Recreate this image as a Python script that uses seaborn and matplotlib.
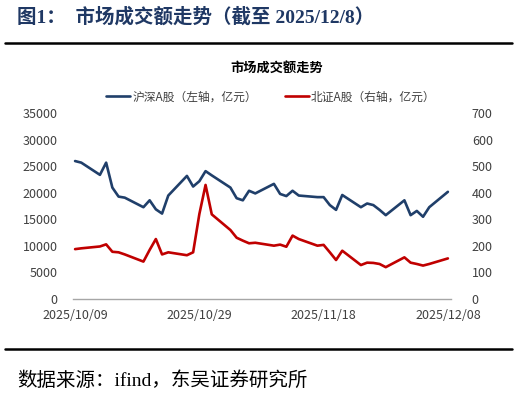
import matplotlib
matplotlib.use("Agg")
import matplotlib.pyplot as plt
import matplotlib.dates as mdates
import seaborn as sns
import pandas as pd
import numpy as np

dates = ["2025-10-09","2025-10-10","2025-10-13","2025-10-14","2025-10-15","2025-10-16","2025-10-17",
         "2025-10-20","2025-10-21","2025-10-22","2025-10-23","2025-10-24","2025-10-27","2025-10-28",
         "2025-10-29","2025-10-30","2025-10-31","2025-11-03","2025-11-04","2025-11-05","2025-11-06",
         "2025-11-07","2025-11-10","2025-11-11","2025-11-12","2025-11-13","2025-11-14","2025-11-17",
         "2025-11-18","2025-11-19","2025-11-20","2025-11-21","2025-11-24","2025-11-25","2025-11-26",
         "2025-11-27","2025-11-28","2025-12-01","2025-12-02","2025-12-03","2025-12-04","2025-12-05",
         "2025-12-08"]
hs_a = [26000, 25700, 23400, 25700, 21000, 19300, 19100, 17300, 18600, 16900, 16100, 19500,
        23200, 21200, 22200, 24100, 23300, 21000, 19000, 18600, 20400, 19900, 21700, 19800,
        19400, 20400, 19500, 19200, 19200, 17700, 16800, 19600, 17300, 18000, 17700, 16800,
        15800, 18600, 15800, 16600, 15500, 17300, 20200]
bz_a = [188, 191, 198, 206, 178, 176, 168, 141, 185, 226, 168, 176, 165, 176, 320, 430, 319,
        260, 231, 220, 210, 212, 201, 205, 197, 239, 226, 201, 204, 176, 147, 182, 128, 137,
        136, 132, 120, 157, 137, 132, 126, 132, 153]
left_ticks = [0, 5000, 10000, 15000, 20000, 25000, 30000, 35000]
right_ticks = [0, 100, 200, 300, 400, 500, 600, 700]
x_ticks = ["2025-10-09", "2025-10-29", "2025-11-18", "2025-12-08"]
label_hs = "沪深A股（左轴，亿元）"
label_bz = "北证A股（右轴，亿元）"
fig_title = "图1：  市场成交额走势（截至 2025/12/8）"
chart_title = "市场成交额走势"
source = "数据来源：ifind，东吴证券研究所"

sns.set_theme(style="white")
plt.rcParams['font.family'] = ['Noto Sans CJK SC', 'DejaVu Sans']
plt.rcParams['axes.unicode_minus'] = False

df = pd.DataFrame({"date": pd.to_datetime(dates), "hs": hs_a, "bz": bz_a})

W, H = 518, 396
fig = plt.figure(figsize=(W / 100, H / 100), dpi=100)
ax = fig.add_axes([73 / W, 1 - 299 / H, (451 - 73) / W, (299 - 113.3) / H])
ax2 = ax.twinx()

blue = "#203F6A"
red = "#C00000"
tick_col = "#404040"

sns.lineplot(data=df, x="date", y="hs", ax=ax, color=blue, linewidth=1.9, label=label_hs, legend=False)
sns.lineplot(data=df, x="date", y="bz", ax=ax2, color=red, linewidth=1.9, label=label_bz, legend=False)

ax.set_ylim(0, 35000)
ax2.set_ylim(0, 700)
ax.set_yticks(left_ticks)
ax2.set_yticks(right_ticks)
ax.set_yticklabels([str(v) for v in left_ticks])
ax2.set_yticklabels([str(v) for v in right_ticks])
xt = pd.to_datetime(x_ticks)
ax.set_xticks(xt)
ax.xaxis.set_major_formatter(mdates.DateFormatter("%Y/%m/%d"))
ax.set_xlim(pd.Timestamp("2025-10-09") - pd.Timedelta(hours=8), pd.Timestamp("2025-12-08") + pd.Timedelta(hours=12))
ax.set_xlabel("")
ax.set_ylabel("")
ax2.set_ylabel("")

for a in (ax, ax2):
    for s in ("top", "left", "right", "bottom"):
        a.spines[s].set_visible(False)
    a.grid(False)
ax.spines["bottom"].set_visible(True)
ax.spines["bottom"].set_color("#A6A6A6")
ax.spines["bottom"].set_linewidth(1.0)

ax.tick_params(axis="y", length=0, pad=11, labelsize=9, labelcolor=tick_col)
ax2.tick_params(axis="y", length=0, pad=15, labelsize=9, labelcolor=tick_col)
ax.tick_params(axis="x", length=4, width=1, color="#A6A6A6", direction="out", pad=3,
               labelsize=9, labelcolor=tick_col)
ax.patch.set_alpha(0)

# legend
h1, l1 = ax.get_legend_handles_labels()
h2, l2 = ax2.get_legend_handles_labels()
fig.legend(h1 + h2, l1 + l2, loc="center", bbox_to_anchor=(271 / W, 1 - 97 / H), ncol=2,
           frameon=False, fontsize=8.5, labelcolor=tick_col, handlelength=2.0, handletextpad=0.2,
           columnspacing=2.4)

# titles and text
fig.text(17 / W, 1 - 17 / H, fig_title, ha="left", va="center", fontsize=14, fontweight="bold",
         color="#1F3864", family=['Liberation Serif', 'Noto Sans CJK SC'])
fig.text(277 / W, 1 - 68 / H, chart_title, ha="center", va="center", fontsize=9.5, fontweight="bold",
         color="black")
fig.text(17 / W, 1 - 381 / H, source, ha="left", va="center", fontsize=14,
         color="black", family=['Liberation Serif', 'Noto Sans CJK SC'])

fig.add_artist(plt.Line2D([5 / W, 512 / W], [1 - 43 / H, 1 - 43 / H], color="black", linewidth=1.8,
                          transform=fig.transFigure))
fig.add_artist(plt.Line2D([5 / W, 512 / W], [1 - 349 / H, 1 - 349 / H], color="black", linewidth=1.8,
                          transform=fig.transFigure))

fig.savefig("out.png", dpi=100)
